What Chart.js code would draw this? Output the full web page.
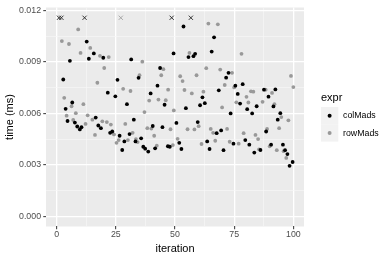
<!DOCTYPE html>
<html>
<head>
<meta charset="utf-8">
<script src="https://cdn.jsdelivr.net/npm/chart.js@4"></script>
<style>
  body { margin: 0; background: #fff; }
  #wrap { width: 390px; height: 260px; }
</style>
</head>
<body>
<div id="wrap"><canvas id="chart" width="390" height="260"></canvas></div>
<script>
// colMads timings (iteration, time in ms)
const colIter = [2.8, 3.8, 4.6, 5.6, 6.6, 7.7, 8.7, 9.8, 10.5, 12.7, 13.6, 15.7, 16.5, 17.6, 18.7, 19.7,
  21.6, 22.6, 23.5, 24.8, 25.7, 26.6, 27.7, 28.6, 29.7, 30.8, 31.5, 32.6, 33.3, 34.6, 35.7, 36.6, 37.4,
  38.7, 39.7, 40.6, 41.6, 42.6, 43.7, 44.7, 45.6, 47.0, 47.8, 49.4, 50.6, 51.8, 52.7, 53.6, 54.6, 55.7,
  57.8, 58.5, 59.6, 60.6, 61.6, 62.6, 63.6, 64.6, 65.5, 66.5, 67.6, 68.5, 69.5, 70.5, 71.6, 72.6, 73.5,
  74.7, 75.5, 76.5, 77.5, 78.6, 79.7, 80.5, 81.4, 82.6, 83.5, 84.5, 86.1, 87.6, 88.5, 89.5, 90.6, 91.6,
  92.4, 93.4, 94.5, 95.6, 96.5, 97.5, 98.4, 99.7];
const colTime = [0.00797, 0.00626, 0.00555, 0.00906, 0.00663, 0.00546, 0.00523, 0.00506, 0.00519, 0.01018,
  0.00918, 0.00949, 0.00575, 0.00529, 0.00513, 0.00924, 0.00720, 0.00486, 0.00494, 0.00699, 0.00795,
  0.00469, 0.00386, 0.00436, 0.00653, 0.00479, 0.00914, 0.00563, 0.00436, 0.00807, 0.00454, 0.00405,
  0.00394, 0.00377, 0.00716, 0.00526, 0.00396, 0.00761, 0.00864, 0.00519, 0.00650, 0.00408, 0.00405,
  0.00949, 0.00544, 0.00428, 0.00392, 0.01106, 0.00630, 0.00928, 0.00933, 0.00947, 0.00549, 0.00647,
  0.00693, 0.00659, 0.00436, 0.00392, 0.00960, 0.01043, 0.00484, 0.00734, 0.00500, 0.00385, 0.00808,
  0.00836, 0.00599, 0.00423, 0.00761, 0.00713, 0.00657, 0.00770, 0.00444, 0.00624, 0.00417, 0.00599,
  0.00371, 0.00641, 0.00386, 0.00738, 0.00494, 0.00697, 0.00417, 0.00640, 0.00739, 0.00563, 0.00601,
  0.00417, 0.00385, 0.00362, 0.00294, 0.00316];

// rowMads timings
const rowIter = [2.2, 3.2, 4.2, 5.2, 6.3, 7.0, 8.1, 9.1, 10.1, 11.3, 12.2, 13.1, 14.2, 15.1, 16.2, 17.2,
  18.3, 19.3, 20.1, 21.2, 22.0, 22.9, 24.2, 25.3, 26.2, 28.1, 29.0, 30.1, 31.2, 32.1, 33.5, 34.2, 35.0,
  36.2, 37.1, 38.3, 39.1, 40.0, 41.2, 42.3, 43.0, 44.2, 45.1, 46.1, 47.1, 48.1, 49.1, 49.5, 51.1, 52.2,
  53.2, 54.0, 55.3, 56.1, 57.1, 58.2, 59.1, 60.0, 61.2, 62.0, 63.2, 64.1, 65.1, 66.1, 67.0, 68.1, 69.1,
  69.9, 71.0, 72.0, 73.1, 74.1, 75.0, 75.9, 76.9, 78.1, 79.0, 80.2, 81.0, 82.1, 83.1, 84.0, 85.1, 85.5,
  87.0, 88.3, 88.9, 90.0, 91.0, 92.0, 93.0, 94.0, 94.9, 95.9, 97.0, 97.9, 99.0, 100.0];
const rowTime = [0.01021, 0.00690, 0.00586, 0.01004, 0.00641, 0.00561, 0.00601, 0.01089, 0.00952, 0.00653,
  0.00538, 0.00588, 0.00981, 0.00563, 0.00474, 0.00778, 0.00935, 0.00553, 0.00864, 0.00549, 0.00928,
  0.00534, 0.00477, 0.00428, 0.00444, 0.00743, 0.00538, 0.00444, 0.00730, 0.00486, 0.00450, 0.00432,
  0.00822, 0.00901, 0.00607, 0.00513, 0.00674, 0.00511, 0.00469, 0.00411, 0.00680, 0.00822, 0.00857,
  0.00676, 0.00738, 0.00507, 0.00415, 0.00617, 0.00451, 0.00816, 0.00788, 0.00736, 0.00507, 0.00952,
  0.00716, 0.00506, 0.00822, 0.00525, 0.00421, 0.00726, 0.00863, 0.01123, 0.00509, 0.00486, 0.00440,
  0.01119, 0.00855, 0.00634, 0.00765, 0.00509, 0.00434, 0.00836, 0.00751, 0.00664, 0.00423, 0.00947,
  0.00484, 0.00696, 0.00663, 0.00728, 0.00726, 0.00474, 0.00450, 0.00390, 0.00667, 0.00738, 0.00509,
  0.00408, 0.00719, 0.00653, 0.00385, 0.00513, 0.00578, 0.00379, 0.00340, 0.00559, 0.00818, 0.00753];

// runs off the top of the scale, drawn as crosses
const colOutIter = [1, 2, 11.8, 48.6, 56.7];
const rowOutIter = [27.1];
const outTime = 0.01157;

const xTicks = [0, 12.5, 25, 37.5, 50, 62.5, 75, 87.5, 100];
const yTicks = [0, 0.0015, 0.003, 0.0045, 0.006, 0.0075, 0.009, 0.0105, 0.012];
const seriesNames = ['colMads', 'rowMads'];
const seriesColors = ['#000000', '#999999'];

function pts(xs, ys) {
  return xs.map((x, i) => ({x: x, y: Array.isArray(ys) ? ys[i] : ys}));
}
const isMajorX = v => v % 25 === 0;
const isMajorY = v => Math.abs(v / 0.003 - Math.round(v / 0.003)) < 1e-6;

const panelBg = {
  id: 'panelBg',
  beforeDraw(chart) {
    const {ctx, chartArea: a} = chart;
    ctx.save();
    ctx.fillStyle = '#EBEBEB';
    ctx.fillRect(a.left, a.top, a.right - a.left, a.bottom - a.top);
    ctx.restore();
  }
};

const ggLegend = {
  id: 'ggLegend',
  afterDraw(chart) {
    const ctx = chart.ctx;
    ctx.save();
    ctx.textBaseline = 'middle';
    ctx.textAlign = 'left';
    ctx.fillStyle = '#000';
    ctx.font = "11px 'Liberation Sans', Arial, sans-serif";
    ctx.fillText('expr', 321, 97.5);
    ctx.font = "8.8px 'Liberation Sans', Arial, sans-serif";
    seriesNames.forEach((name, i) => {
      const top = 107 + i * 17.3;
      ctx.fillStyle = '#F2F2F2';
      ctx.fillRect(321, top, 17.3, 17.3);
      ctx.fillStyle = seriesColors[i];
      ctx.beginPath();
      ctx.arc(329.6, top + 8.65, 2, 0, Math.PI * 2);
      ctx.fill();
      ctx.fillStyle = '#000';
      ctx.fillText(name, 343, top + 8.9);
    });
    ctx.restore();
  }
};

Chart.defaults.font.family = "'Liberation Sans', Arial, sans-serif";

new Chart(document.getElementById('chart'), {
  type: 'scatter',
  data: {
    datasets: [
      {label: 'colMads', data: pts(colIter, colTime), backgroundColor: seriesColors[0],
        pointRadius: 1.9, borderWidth: 0},
      {label: 'rowMads', data: pts(rowIter, rowTime), backgroundColor: seriesColors[1],
        pointRadius: 1.9, borderWidth: 0},
      {label: 'colMads out', data: pts(colOutIter, outTime), pointStyle: 'crossRot',
        borderColor: '#222', borderWidth: 0.9, pointRadius: 3},
      {label: 'rowMads out', data: pts(rowOutIter, outTime), pointStyle: 'crossRot',
        borderColor: '#A0A0A0', borderWidth: 0.9, pointRadius: 3}
    ]
  },
  options: {
    responsive: false,
    animation: false,
    events: [],
    layout: {padding: {top: 5, right: 86, bottom: 0, left: 0}},
    plugins: {legend: {display: false}, tooltip: {enabled: false}},
    scales: {
      x: {
        type: 'linear', min: -4.5, max: 104.5,
        afterBuildTicks: s => { s.ticks = xTicks.map(v => ({value: v})); },
        afterFit: s => { s.height = 33.5; },
        border: {display: false},
        grid: {
          color: c => isMajorX(c.tick.value) ? '#FFFFFF' : '#F7F7F7',
          lineWidth: c => isMajorX(c.tick.value) ? 1.3 : 0.7,
          tickColor: c => isMajorX(c.tick.value) ? '#333333' : 'rgba(0,0,0,0)',
          tickWidth: 1, tickLength: 2.75
        },
        ticks: {
          autoSkip: false, maxRotation: 0, padding: 0.5, color: '#4D4D4D',
          font: {size: 8.8},
          callback: v => isMajorX(v) ? String(v) : ''
        },
        title: {display: true, text: 'iteration', color: '#000', font: {size: 11},
          padding: {top: 0, bottom: 4.4}}
      },
      y: {
        type: 'linear', min: -0.0006, max: 0.01217,
        afterBuildTicks: s => { s.ticks = yTicks.map(v => ({value: v})); },
        afterFit: s => { s.width = 46; },
        border: {display: false},
        grid: {
          color: c => isMajorY(c.tick.value) ? '#FFFFFF' : '#F7F7F7',
          lineWidth: c => isMajorY(c.tick.value) ? 1.3 : 0.7,
          tickColor: c => isMajorY(c.tick.value) ? '#333333' : 'rgba(0,0,0,0)',
          tickWidth: 1, tickLength: 2.75
        },
        ticks: {
          autoSkip: false, padding: 2.2, color: '#4D4D4D',
          font: {size: 8.8},
          callback: v => isMajorY(v) ? v.toFixed(3) : ''
        },
        title: {display: true, text: 'time (ms)', color: '#000', font: {size: 11},
          padding: {top: 3.1, bottom: 0}}
      }
    }
  },
  plugins: [panelBg, ggLegend]
});
</script>
</body>
</html>
